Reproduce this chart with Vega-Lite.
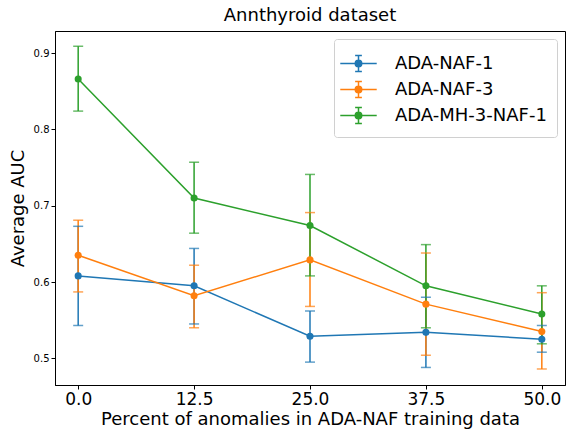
{
  "$schema": "https://vega.github.io/schema/vega-lite/v6.json",
  "autosize": {"type": "none"},
  "width": 510,
  "height": 354,
  "padding": {"left": 55, "top": 31, "right": 1, "bottom": 44},
  "background": "white",
  "title": {"text": "Annthyroid dataset", "fontSize": 18, "fontWeight": "normal", "font": "DejaVu Sans", "color": "black", "offset": 6},
  "config": {
    "view": {"stroke": "black", "strokeWidth": 1},
    "axis": {"grid": false, "domainColor": "black", "tickColor": "black", "labelColor": "black", "titleColor": "black", "labelFont": "DejaVu Sans", "titleFont": "DejaVu Sans", "titleFontWeight": "normal", "tickSize": 4}
  },
  "data": {"values": [
    {"pct": 0, "series": "ADA-NAF-1", "auc": 0.608, "lo": 0.543, "hi": 0.673},
    {"pct": 12.5, "series": "ADA-NAF-1", "auc": 0.595, "lo": 0.545, "hi": 0.644},
    {"pct": 25, "series": "ADA-NAF-1", "auc": 0.529, "lo": 0.495, "hi": 0.562},
    {"pct": 37.5, "series": "ADA-NAF-1", "auc": 0.534, "lo": 0.488, "hi": 0.580},
    {"pct": 50, "series": "ADA-NAF-1", "auc": 0.525, "lo": 0.508, "hi": 0.543},
    {"pct": 0, "series": "ADA-NAF-3", "auc": 0.635, "lo": 0.587, "hi": 0.681},
    {"pct": 12.5, "series": "ADA-NAF-3", "auc": 0.582, "lo": 0.540, "hi": 0.622},
    {"pct": 25, "series": "ADA-NAF-3", "auc": 0.629, "lo": 0.568, "hi": 0.691},
    {"pct": 37.5, "series": "ADA-NAF-3", "auc": 0.571, "lo": 0.504, "hi": 0.638},
    {"pct": 50, "series": "ADA-NAF-3", "auc": 0.535, "lo": 0.486, "hi": 0.586},
    {"pct": 0, "series": "ADA-MH-3-NAF-1", "auc": 0.866, "lo": 0.824, "hi": 0.909},
    {"pct": 12.5, "series": "ADA-MH-3-NAF-1", "auc": 0.710, "lo": 0.664, "hi": 0.757},
    {"pct": 25, "series": "ADA-MH-3-NAF-1", "auc": 0.674, "lo": 0.608, "hi": 0.741},
    {"pct": 37.5, "series": "ADA-MH-3-NAF-1", "auc": 0.595, "lo": 0.540, "hi": 0.649},
    {"pct": 50, "series": "ADA-MH-3-NAF-1", "auc": 0.558, "lo": 0.519, "hi": 0.595}
  ]},
  "encoding": {
    "x": {"field": "pct", "type": "quantitative", "scale": {"domain": [-2.5, 52.5], "nice": false, "zero": false},
      "axis": {"values": [0, 12.5, 25, 37.5, 50], "format": ".1f", "labelFontSize": 17, "title": "Percent of anomalies in ADA-NAF training data", "titleFontSize": 18, "titlePadding": 3, "labelPadding": 2}},
    "color": {"field": "series", "type": "nominal",
      "scale": {"domain": ["ADA-NAF-1", "ADA-NAF-3", "ADA-MH-3-NAF-1"], "range": ["#1f77b4", "#ff7f0e", "#2ca02c"]},
      "legend": {"title": null, "orient": "top-right", "offset": 8, "labelFontSize": 18, "labelFont": "DejaVu Sans", "labelColor": "black",
        "symbolType": "M-1.35,0H1.35M0,-0.6V0.6M-0.25,-0.6H0.25M-0.25,0.6H0.25M0.24,0A0.24,0.24 0 1,1 -0.24,0A0.24,0.24 0 1,1 0.24,0",
        "symbolSize": 729, "symbolStrokeWidth": 1.5, "symbolOpacity": 1, "rowPadding": 0, "labelOffset": 22,
        "strokeColor": "#d0d0d0", "fillColor": "white", "cornerRadius": 3, "padding": 10,
        "encode": {"symbols": {"update": {"fill": {"scale": "color", "field": "value"}, "opacity": {"value": 1}}}}}}
  },
  "layer": [
    {"mark": {"type": "rule", "strokeWidth": 1.5}, "encoding": {"y": {"field": "lo", "type": "quantitative"}, "y2": {"field": "hi"}}},
    {"mark": {"type": "tick", "orient": "horizontal", "size": 10, "thickness": 1.5}, "encoding": {"y": {"field": "lo", "type": "quantitative"}}},
    {"mark": {"type": "tick", "orient": "horizontal", "size": 10, "thickness": 1.5}, "encoding": {"y": {"field": "hi", "type": "quantitative"}}},
    {"mark": {"type": "line", "strokeWidth": 1.5}, "encoding": {"y": {"field": "auc", "type": "quantitative"}}},
    {"mark": {"type": "point", "filled": true, "size": 50, "opacity": 1}, "encoding": {"y": {"field": "auc", "type": "quantitative",
      "scale": {"domain": [0.465, 0.929], "nice": false, "zero": false},
      "axis": {"values": [0.5, 0.6, 0.7, 0.8, 0.9], "format": ".1f", "labelFontSize": 10, "title": "Average AUC", "titleFontSize": 18, "titlePadding": 6}}}}
  ]
}
